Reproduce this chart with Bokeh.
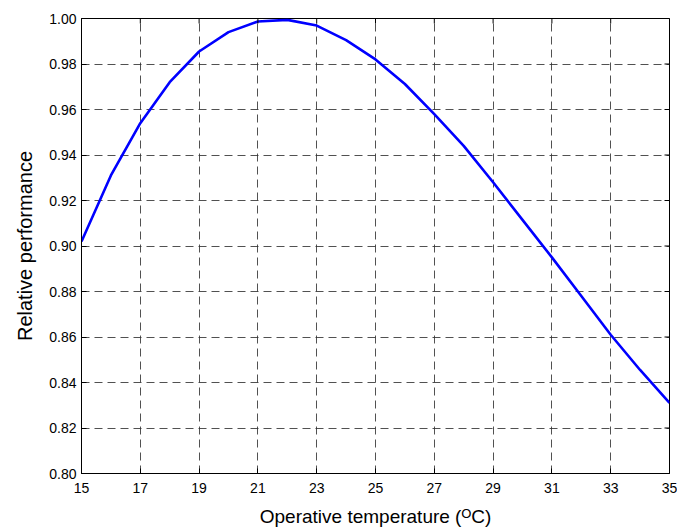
import math
from bokeh.plotting import figure
from bokeh.models import FixedTicker, Range1d, NumeralTickFormatter
from bokeh.embed import file_html
from bokeh.resources import INLINE

temperature = [15, 16, 17, 18, 19, 20, 21, 22, 23, 24, 25, 26, 27, 28, 29, 30, 31, 32, 33, 34, 35]
performance = [0.902, 0.931, 0.954, 0.972, 0.9855, 0.994, 0.9987, 0.9994, 0.9969, 0.9905, 0.982,
               0.9712, 0.958, 0.944, 0.928, 0.9115, 0.895, 0.878, 0.861, 0.8455, 0.831]
x_ticks = [15, 17, 19, 21, 23, 25, 27, 29, 31, 33, 35]
y_ticks = [0.80, 0.82, 0.84, 0.86, 0.88, 0.90, 0.92, 0.94, 0.96, 0.98, 1.00]

FONT = "Liberation Sans"

p = figure(frame_width=588, frame_height=455, output_backend="svg", toolbar_location=None,
           x_range=Range1d(x_ticks[0], x_ticks[-1]), y_range=Range1d(y_ticks[0], y_ticks[-1]),
           min_border_left=81, min_border_top=18, min_border_right=8, min_border_bottom=56,
           x_axis_label="Operative temperature (\u1d3cC)", y_axis_label="Relative performance")
p.background_fill_color = "white"
p.border_fill_color = "white"
p.outline_line_color = "black"
p.outline_line_width = 1

for g in (p.xgrid, p.ygrid):
    g.grid_line_color = "#333333"
    g.grid_line_dash = "8 5"
    g.grid_line_width = 1
    g.grid_line_alpha = 0.85
p.xgrid.ticker = FixedTicker(ticks=x_ticks)
p.ygrid.ticker = FixedTicker(ticks=y_ticks)

p.line(temperature, performance, line_color="#0000ff", line_width=2.6)

# inside tick marks on the top and right edges of the box
p.scatter(x_ticks, [y_ticks[-1]] * len(x_ticks), marker="dash", angle=math.pi / 2,
          size=10, line_color="black", line_width=1)
p.scatter([x_ticks[-1]] * len(y_ticks), y_ticks, marker="dash",
          size=10, line_color="black", line_width=1)

for ax in p.xaxis:
    ax.ticker = FixedTicker(ticks=x_ticks)
for ax in p.yaxis:
    ax.ticker = FixedTicker(ticks=y_ticks)
    ax.formatter = NumeralTickFormatter(format="0.00")

for ax in p.xaxis + p.yaxis:
    ax.axis_line_color = "black"
    ax.major_tick_in = 5
    ax.major_tick_out = 0
    ax.minor_tick_line_color = None
    ax.major_tick_line_color = "black"
    ax.major_label_text_font = FONT
    ax.major_label_text_font_size = "14px"
    ax.major_label_text_color = "black"
    ax.axis_label_text_font = FONT
    ax.axis_label_text_font_style = "normal"
    ax.axis_label_text_color = "black"

p.xaxis.axis_label_text_font_size = "19px"
p.yaxis.axis_label_text_font_size = "20px"
p.xaxis.major_label_standoff = 9
p.xaxis.axis_label_standoff = 10
p.yaxis.major_label_standoff = 5
p.yaxis.axis_label_standoff = 10

open("out.html", "w").write(file_html(p, INLINE))
